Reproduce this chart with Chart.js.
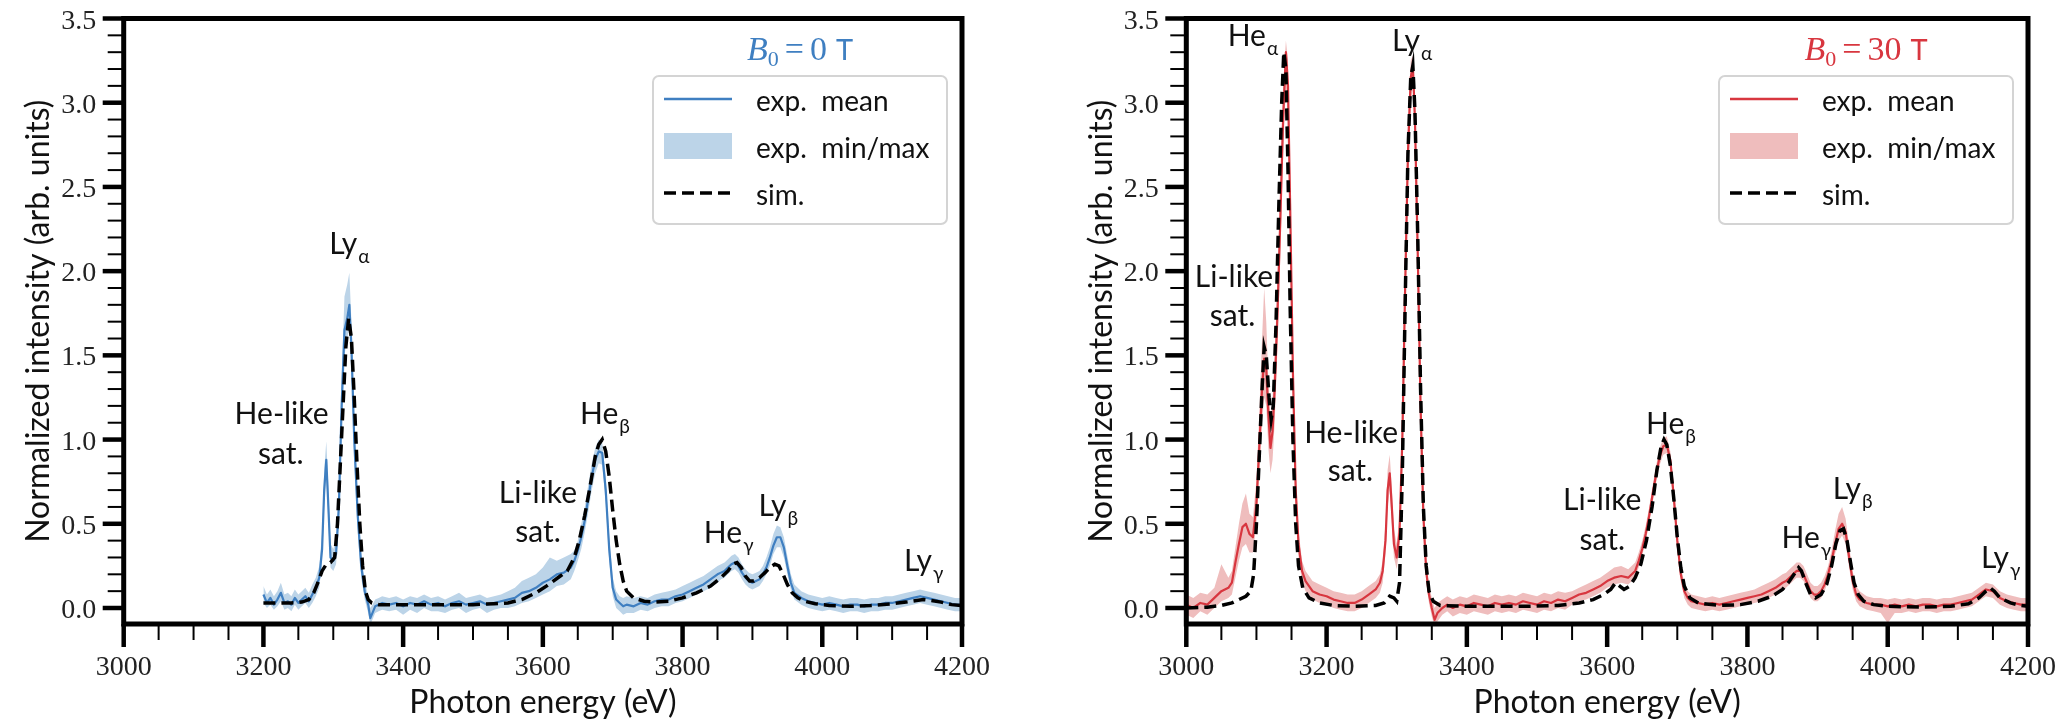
<!DOCTYPE html>
<html>
<head>
<meta charset="utf-8">
<script src="https://cdn.jsdelivr.net/npm/chart.js@4.4.1/dist/chart.umd.min.js"></script>
<style>
    body { margin: 0; background: #fff; width: 2069px; height: 723px; overflow: hidden; position: relative; }
    canvas { position: absolute; top: 0; }
    #chart-0t { left: 0; }
    #chart-30t { left: 1035px; }
</style>
</head>
<body>
<canvas id="chart-0t" width="1035" height="723"></canvas>
<canvas id="chart-30t" width="1034" height="723"></canvas>
<script>
// ---- data ----
const xTickLabels = ['3000', '3200', '3400', '3600', '3800', '4000', '4200'];
const yTickLabels = ['0.0', '0.5', '1.0', '1.5', '2.0', '2.5', '3.0', '3.5'];

// B0 = 0 T, experiment
const energy0 = [3200,3205,3210,3215,3220,3225,3230,3235,3240,3245,3250,3255,3260,3265,3270,
    3275,3280,3284,3287,3290,3293,3296,3300,3304,3308,3312,3316,3320,3323,3326,3330,3335,3340,3345,3350,3353,3356,3360,3365,3370,
    3380,3390,3400,3410,3420,3430,3440,3450,3460,3470,3480,3490,3500,3510,3520,3530,3540,
    3550,3560,3570,3580,3590,3600,3610,3620,3630,3640,
    3645,3650,3655,3660,3665,3670,3675,3680,3685,3690,3695,3700,3705,3710,3715,3720,
    3730,3740,3750,3760,3770,3780,3790,3800,3810,3820,3830,3840,3850,
    3855,3860,3865,3870,3875,3880,3885,3890,3895,3900,3905,3910,3915,3920,3925,3930,3935,3940,3945,3950,3955,3960,
    3970,3980,3990,4000,4010,4020,4030,4040,4050,4060,4070,4080,4090,4100,4110,4120,4130,4140,4150,4160,4170,4180,4190,4200];
const mean0 = [0.08,0.03,0.06,0.02,0.05,0.09,0.03,0.04,0.02,0.06,0.03,0.05,0.07,0.04,0.08,
    0.12,0.18,0.35,0.7,0.88,0.6,0.3,0.28,0.32,0.6,1.2,1.65,1.72,1.8,1.55,1.0,0.55,0.25,0.1,0.02,-0.06,-0.03,0.01,0.02,0.03,
    0.02,0.03,0.01,0.03,0.02,0.04,0.02,0.03,0.01,0.03,0.04,0.02,0.03,0.04,0.02,0.03,0.04,
    0.05,0.06,0.09,0.1,0.12,0.15,0.17,0.2,0.21,0.24,
    0.28,0.34,0.42,0.52,0.65,0.78,0.88,0.93,0.92,0.7,0.35,0.12,0.05,0.03,0.01,0.02,
    0.01,0.03,0.02,0.04,0.05,0.05,0.07,0.08,0.1,0.12,0.14,0.17,0.2,
    0.21,0.22,0.24,0.26,0.27,0.25,0.21,0.18,0.16,0.15,0.16,0.17,0.2,0.24,0.3,0.37,0.42,0.42,0.36,0.25,0.15,0.09,
    0.06,0.04,0.03,0.02,0.03,0.02,0.01,0.02,0.02,0.01,0.02,0.02,0.03,0.03,0.04,0.05,0.06,0.07,0.06,0.05,0.04,0.03,0.02,0.02];
const min0 = [0.03,0.0,0.02,-0.01,0.01,0.04,-0.01,0.0,-0.02,0.02,-0.01,0.01,0.03,0.0,0.03,
    0.07,0.12,0.28,0.6,0.78,0.5,0.24,0.22,0.26,0.5,1.05,1.5,1.6,1.66,1.42,0.88,0.45,0.18,0.05,-0.03,-0.1,-0.07,-0.03,-0.02,-0.01,
    -0.02,-0.01,-0.04,-0.01,-0.03,0.0,-0.02,-0.02,-0.03,-0.01,0.0,-0.03,-0.01,0.0,-0.03,-0.01,0.0,
    0.0,0.01,0.03,0.04,0.06,0.08,0.1,0.13,0.14,0.17,
    0.22,0.28,0.35,0.45,0.57,0.7,0.8,0.86,0.85,0.62,0.28,0.07,0.0,-0.02,-0.04,-0.03,
    -0.03,-0.01,-0.02,0.0,0.01,0.01,0.03,0.04,0.06,0.08,0.1,0.12,0.15,
    0.17,0.18,0.2,0.22,0.23,0.21,0.17,0.14,0.12,0.11,0.12,0.13,0.16,0.2,0.25,0.32,0.36,0.36,0.3,0.2,0.11,0.05,
    0.02,0.0,-0.01,-0.02,-0.01,-0.02,-0.03,-0.02,-0.02,-0.03,-0.02,-0.02,-0.01,-0.01,0.0,0.01,0.02,0.03,0.02,0.01,0.0,-0.01,-0.02,-0.02];
const max0 = [0.13,0.08,0.11,0.07,0.1,0.15,0.08,0.09,0.07,0.11,0.08,0.1,0.12,0.09,0.14,
    0.18,0.25,0.45,0.82,0.99,0.72,0.38,0.35,0.4,0.72,1.38,1.85,1.92,1.99,1.7,1.12,0.65,0.32,0.16,0.07,0.0,0.02,0.05,0.06,0.07,
    0.06,0.07,0.05,0.07,0.06,0.08,0.06,0.07,0.05,0.07,0.09,0.06,0.07,0.08,0.06,0.07,0.08,
    0.1,0.12,0.16,0.18,0.2,0.24,0.3,0.28,0.3,0.32,
    0.34,0.4,0.5,0.6,0.73,0.86,0.95,1.0,0.98,0.78,0.43,0.18,0.1,0.07,0.06,0.07,
    0.06,0.07,0.06,0.08,0.09,0.1,0.11,0.13,0.15,0.17,0.19,0.22,0.25,
    0.26,0.27,0.29,0.31,0.32,0.3,0.26,0.23,0.21,0.2,0.21,0.22,0.25,0.3,0.36,0.44,0.49,0.48,0.42,0.31,0.2,0.14,
    0.1,0.08,0.07,0.06,0.07,0.06,0.05,0.06,0.06,0.05,0.06,0.06,0.07,0.07,0.08,0.09,0.1,0.11,0.1,0.09,0.08,0.07,0.06,0.06];

// B0 = 0 T, simulation
const simEnergy0 = [3200,3220,3240,3255,3265,3272,3278,3284,3290,3296,3302,3306,3310,3314,3318,3322,3326,3330,3334,3338,
    3342,3346,3350,3355,3365,3380,3420,3460,3500,3530,3550,3570,3590,3605,3615,3625,3635,3645,3652,3660,
    3668,3675,3680,3685,3690,3695,3700,3705,3710,3715,3720,3730,3745,3760,3780,3800,3820,3840,3855,3865,
    3872,3878,3884,3890,3896,3902,3910,3918,3925,3932,3938,3944,3950,3957,3965,3975,3990,4010,4040,4070,
    4100,4120,4135,4145,4155,4170,4185,4200];
const sim0 = [0.03,0.03,0.03,0.035,0.05,0.09,0.15,0.22,0.26,0.27,0.3,0.5,0.85,1.2,1.55,1.72,1.6,1.25,0.85,0.5,
    0.25,0.1,0.05,0.03,0.02,0.02,0.02,0.02,0.02,0.025,0.03,0.05,0.09,0.13,0.16,0.19,0.22,0.3,0.4,0.55,
    0.73,0.9,0.97,1.0,0.93,0.78,0.58,0.4,0.26,0.16,0.1,0.06,0.04,0.035,0.04,0.06,0.09,0.13,0.18,0.22,
    0.26,0.27,0.24,0.19,0.16,0.16,0.18,0.21,0.24,0.26,0.25,0.2,0.14,0.09,0.06,0.04,0.025,0.015,0.01,0.015,
    0.025,0.035,0.045,0.05,0.045,0.035,0.02,0.015];

// B0 = 30 T, experiment
const energy30 = [3000,3010,3020,3030,3040,3050,3060,3065,3070,3075,3080,3085,3090,3095,3100,3104,3108,3111,3114,3117,3120,3123,3126,
    3130,3134,3138,3142,3145,3148,3152,3156,3160,3165,3170,3175,3180,3190,3200,
    3210,3220,3230,3240,3250,3260,3270,
    3276,3280,3284,3287,3290,3293,3296,3300,3304,3308,3312,3316,3320,3323,3326,3330,3334,3338,3342,3346,3350,3354,3358,3365,3372,
    3380,3390,3400,3410,3420,3430,3440,3450,3460,3470,3480,3490,3500,3510,3520,3530,3540,
    3550,3560,3570,3580,3590,3600,3610,3620,3630,3640,
    3645,3650,3655,3660,3665,3670,3675,3680,3685,3690,3695,3700,3705,3710,3715,3720,
    3730,3740,3750,3760,3770,3780,3790,3800,3810,3820,3830,3840,3850,
    3855,3860,3865,3870,3875,3880,3885,3890,3895,3900,3905,3910,3915,3920,3925,3930,3935,3940,3945,3950,3955,3960,
    3970,3980,3990,4000,4010,4020,4030,4040,4050,4060,4070,4080,4090,4100,4110,4120,4130,4140,4150,4160,4170,4180,4190,4200];
const mean30 = [0.02,0.0,0.03,0.02,0.06,0.1,0.12,0.15,0.27,0.38,0.48,0.5,0.44,0.42,0.62,0.95,1.3,1.48,1.42,1.15,0.95,1.05,1.3,
    1.75,2.3,2.9,3.3,3.1,2.4,1.4,0.7,0.38,0.22,0.16,0.13,0.1,0.08,0.07,
    0.05,0.04,0.03,0.03,0.05,0.08,0.11,
    0.15,0.22,0.4,0.7,0.8,0.6,0.38,0.3,0.45,1.0,1.9,2.7,3.15,3.22,2.9,2.1,1.2,0.55,0.22,0.08,0.0,-0.07,-0.03,0.0,0.02,
    0.0,0.02,0.01,0.03,0.02,0.01,0.03,0.02,0.03,0.02,0.04,0.03,0.02,0.04,0.03,0.05,0.04,
    0.06,0.08,0.09,0.11,0.13,0.16,0.18,0.19,0.18,0.22,
    0.28,0.35,0.44,0.55,0.68,0.8,0.9,0.96,0.97,0.88,0.66,0.4,0.2,0.1,0.06,0.04,
    0.03,0.02,0.03,0.02,0.03,0.04,0.05,0.06,0.07,0.08,0.1,0.12,0.15,
    0.16,0.18,0.2,0.22,0.22,0.2,0.15,0.1,0.08,0.08,0.1,0.14,0.2,0.28,0.38,0.47,0.5,0.45,0.3,0.16,0.08,0.05,
    0.03,0.02,0.02,0.01,0.02,0.01,0.02,0.01,0.02,0.02,0.01,0.02,0.02,0.03,0.04,0.05,0.08,0.11,0.1,0.06,0.04,0.03,0.02,0.02];
const min30 = [-0.04,-0.06,-0.02,-0.04,0.0,0.04,0.06,0.08,0.18,0.28,0.36,0.38,0.33,0.33,0.5,0.8,1.1,1.25,1.2,0.95,0.8,0.88,1.1,
    1.55,2.1,2.7,3.1,2.9,2.2,1.25,0.6,0.3,0.16,0.1,0.08,0.05,0.03,0.02,
    0.0,-0.01,-0.02,-0.02,0.0,0.03,0.06,
    0.09,0.15,0.32,0.6,0.7,0.5,0.3,0.23,0.36,0.85,1.7,2.5,3.0,3.1,2.75,1.95,1.05,0.45,0.15,0.03,-0.05,-0.11,-0.08,-0.04,-0.02,
    -0.05,-0.03,-0.04,-0.02,-0.03,-0.04,-0.02,-0.03,-0.02,-0.03,-0.01,-0.02,-0.03,-0.01,-0.02,0.0,-0.01,
    0.02,0.04,0.05,0.07,0.09,0.12,0.14,0.15,0.14,0.18,
    0.24,0.31,0.4,0.5,0.63,0.75,0.85,0.91,0.92,0.83,0.6,0.35,0.16,0.06,0.02,0.0,
    -0.01,-0.02,-0.01,-0.02,-0.01,0.0,0.01,0.02,0.03,0.04,0.06,0.08,0.1,
    0.12,0.14,0.16,0.18,0.18,0.16,0.11,0.06,0.04,0.04,0.06,0.1,0.16,0.23,0.32,0.4,0.43,0.38,0.24,0.11,0.04,0.01,
    -0.01,-0.02,-0.03,-0.09,-0.03,-0.03,-0.02,-0.03,-0.02,-0.02,-0.03,-0.02,-0.02,-0.01,0.0,0.01,0.04,0.07,0.06,0.02,0.0,-0.01,-0.02,-0.02];
const max30 = [0.08,0.06,0.09,0.08,0.12,0.26,0.18,0.22,0.36,0.5,0.62,0.68,0.56,0.54,0.76,1.15,1.6,1.9,1.7,1.35,1.12,1.25,1.5,
    1.95,2.5,3.1,3.37,3.25,2.6,1.55,0.8,0.46,0.28,0.22,0.19,0.16,0.14,0.12,
    0.1,0.09,0.08,0.08,0.1,0.13,0.16,
    0.2,0.28,0.5,0.82,0.91,0.72,0.47,0.38,0.55,1.15,2.1,2.9,3.25,3.28,3.05,2.25,1.35,0.65,0.3,0.14,0.06,0.0,0.03,0.05,0.07,
    0.05,0.07,0.06,0.08,0.07,0.06,0.08,0.07,0.08,0.07,0.09,0.08,0.07,0.09,0.08,0.1,0.09,
    0.1,0.12,0.14,0.16,0.18,0.21,0.24,0.25,0.23,0.27,
    0.33,0.4,0.49,0.6,0.73,0.85,0.95,1.01,1.02,0.93,0.72,0.46,0.25,0.15,0.1,0.08,
    0.07,0.06,0.07,0.06,0.07,0.08,0.09,0.1,0.11,0.13,0.15,0.17,0.2,
    0.21,0.23,0.25,0.27,0.27,0.25,0.2,0.15,0.13,0.13,0.15,0.19,0.25,0.34,0.46,0.56,0.6,0.53,0.37,0.22,0.13,0.1,
    0.07,0.06,0.06,0.05,0.06,0.05,0.06,0.05,0.06,0.06,0.05,0.06,0.06,0.07,0.08,0.09,0.12,0.15,0.14,0.1,0.08,0.07,0.06,0.06];

// B0 = 30 T, simulation
const simEnergy30 = [3000,3030,3050,3065,3075,3085,3092,3096,3100,3104,3108,3111,3114,3118,3121,3124,3128,3132,3136,3139,
    3142,3145,3148,3152,3156,3160,3166,3175,3190,3210,3240,3270,3282,3290,3296,3300,3304,3308,3312,3316,
    3320,3323,3326,3330,3334,3338,3342,3346,3352,3362,3400,3480,3530,3560,3580,3595,3605,3612,3618,3624,
    3632,3640,3648,3656,3664,3671,3677,3681,3685,3690,3695,3700,3705,3710,3718,3730,3760,3790,3815,3835,
    3850,3860,3868,3873,3877,3883,3890,3897,3905,3913,3920,3926,3932,3937,3942,3947,3952,3958,3966,3980,
    4000,4050,4090,4115,4130,4140,4146,4152,4160,4175,4190,4200];
const sim30 = [0.0,0.005,0.015,0.03,0.05,0.07,0.1,0.2,0.5,0.9,1.3,1.55,1.5,1.25,1.12,1.2,1.7,2.4,3.0,3.3,
    3.2,2.6,1.8,1.0,0.5,0.25,0.12,0.06,0.03,0.015,0.01,0.015,0.03,0.07,0.06,0.04,0.15,0.8,1.8,2.7,
    3.15,3.22,2.95,2.2,1.3,0.6,0.25,0.1,0.04,0.015,0.01,0.01,0.015,0.03,0.05,0.08,0.11,0.15,0.13,0.11,
    0.13,0.18,0.26,0.4,0.6,0.82,0.96,1.0,0.97,0.85,0.65,0.42,0.24,0.13,0.06,0.03,0.015,0.02,0.04,0.07,
    0.11,0.16,0.21,0.24,0.22,0.15,0.08,0.06,0.08,0.14,0.25,0.38,0.46,0.47,0.4,0.27,0.15,0.08,0.04,0.02,
    0.01,0.005,0.01,0.025,0.06,0.1,0.12,0.1,0.06,0.03,0.015,0.01];

// peak labels (energy, intensity of the text centre)
const peakLabels0 = [
    { text: 'Ly', sub: 'α', e: 3323, v: 2.17 },
    { text: 'He-like', e: 3226, v: 1.16 },
    { text: 'sat.', e: 3225, v: 0.92 },
    { text: 'He', sub: 'β', e: 3689, v: 1.16 },
    { text: 'Li-like', e: 3593, v: 0.686 },
    { text: 'sat.', e: 3593, v: 0.455 },
    { text: 'He', sub: 'γ', e: 3866, v: 0.45 },
    { text: 'Ly', sub: 'β', e: 3937, v: 0.61 },
    { text: 'Ly', sub: 'γ', e: 4145, v: 0.285 }
];
const peakLabels30 = [
    { text: 'He', sub: 'α', e: 3095, v: 3.40 },
    { text: 'Ly', sub: 'α', e: 3322, v: 3.37 },
    { text: 'Li-like', e: 3068, v: 1.97 },
    { text: 'sat.', e: 3066, v: 1.74 },
    { text: 'He-like', e: 3235, v: 1.045 },
    { text: 'sat.', e: 3234, v: 0.82 },
    { text: 'He', sub: 'β', e: 3691, v: 1.1 },
    { text: 'Li-like', e: 3593, v: 0.65 },
    { text: 'sat.', e: 3593, v: 0.41 },
    { text: 'He', sub: 'γ', e: 3884, v: 0.42 },
    { text: 'Ly', sub: 'β', e: 3950, v: 0.71 },
    { text: 'Ly', sub: 'γ', e: 4161, v: 0.30 }
];

const SANS = 'Lato, "Noto Sans", sans-serif';
const SERIF = '"Liberation Serif", "DejaVu Serif", serif';

function toPoints(xs, ys) {
    return xs.map((e, i) => ({ x: e, y: ys[i] }));
}

function line(ctx, x0, y0, x1, y1, w) {
    ctx.lineWidth = w;
    ctx.beginPath();
    ctx.moveTo(x0, y0);
    ctx.lineTo(x1, y1);
    ctx.stroke();
}

// axes frame, ticks, labels, legend and annotations
const decor = {
    id: 'decor',
    afterDraw(chart, args, o) {
        const { ctx, chartArea: a, scales: { x, y } } = chart;
        ctx.save();
        ctx.strokeStyle = '#000';
        ctx.lineCap = 'butt';

        // minor ticks
        for (let v = 3050; v < 4200; v += 50) {
            if (v % 200 === 0) continue;
            const px = x.getPixelForValue(v);
            line(ctx, px, a.bottom, px, a.bottom + 16, 2);
        }
        for (let k = 1; k < 35; k++) {
            if (k % 5 === 0) continue;
            const py = y.getPixelForValue(k / 10);
            line(ctx, a.left, py, a.left - 16, py, 2);
        }
        // major ticks + labels
        ctx.fillStyle = '#222';
        ctx.font = '28px ' + SERIF;
        ctx.textAlign = 'center';
        ctx.textBaseline = 'alphabetic';
        xTickLabels.forEach(t => {
            const px = x.getPixelForValue(parseFloat(t));
            line(ctx, px, a.bottom, px, a.bottom + 23, 4.5);
            ctx.fillText(t, px, 675);
        });
        ctx.textAlign = 'right';
        yTickLabels.forEach(t => {
            const py = y.getPixelForValue(parseFloat(t));
            line(ctx, a.left, py, a.left - 21, py, 4.5);
            ctx.fillText(t, a.left - 27.5, py + 10);
        });

        // frame
        ctx.lineWidth = 5;
        ctx.strokeRect(a.left, a.top, a.right - a.left, a.bottom - a.top);

        // axis titles
        ctx.fillStyle = '#111';
        ctx.font = '32px ' + SANS;
        ctx.textAlign = 'center';
        ctx.fillText('Photon energy (eV)', (a.left + a.right) / 2, 713);
        ctx.save();
        ctx.translate(a.left - 74.5, (a.top + a.bottom) / 2);
        ctx.rotate(-Math.PI / 2);
        ctx.fillText('Normalized intensity (arb. units)', 0, 0);
        ctx.restore();

        // peak labels
        o.labels.forEach(l => {
            ctx.font = '30px ' + SANS;
            const w1 = ctx.measureText(l.text).width;
            ctx.font = '19px ' + SANS;
            const w2 = l.sub ? ctx.measureText(l.sub).width + 1 : 0;
            const px = x.getPixelForValue(l.e) - (w1 + w2) / 2;
            const py = y.getPixelForValue(l.v) + 11;
            ctx.textAlign = 'left';
            ctx.font = '30px ' + SANS;
            ctx.fillText(l.text, px, py);
            if (l.sub) {
                ctx.font = '19px ' + SANS;
                ctx.fillText(l.sub, px + w1 + 1, py + 9);
            }
        });

        // legend box
        const bw = 294, bh = 148;
        const bx = a.right - 15 - bw, by = a.top + 57.5;
        ctx.fillStyle = 'rgba(255,255,255,0.85)';
        ctx.strokeStyle = '#d4d4d4';
        ctx.lineWidth = 2;
        ctx.beginPath();
        ctx.roundRect(bx, by, bw, bh, 6);
        ctx.fill();
        ctx.stroke();

        const lx0 = bx + 11, lx1 = bx + 79, tx = bx + 103;
        const r1 = by + 23, r2 = by + 70, r3 = by + 117;
        ctx.strokeStyle = o.lineColor;
        line(ctx, lx0, r1, lx1, r1, 2.5);
        ctx.fillStyle = o.bandColor;
        ctx.fillRect(lx0, r2 - 13, lx1 - lx0, 26);
        ctx.strokeStyle = '#000';
        ctx.setLineDash([12, 6]);
        line(ctx, lx0, r3, lx1, r3, 3.5);
        ctx.setLineDash([]);

        ctx.fillStyle = '#111';
        ctx.font = '28px ' + SANS;
        ctx.textAlign = 'left';
        ctx.fillText('exp.  mean', tx, r1 + 12);
        ctx.fillText('exp.  min/max', tx, r2 + 12);
        ctx.fillText('sim.', tx, r3 + 12);

        // legend title: B0 = n T
        const parts = [
            { s: 'B', f: 'italic 34px ' + SERIF, dy: 0, gap: 0 },
            { s: '0', f: '22px ' + SERIF, dy: 6, gap: 6 },
            { s: '=', f: '34px ' + SERIF, dy: 0, gap: 6 },
            { s: o.field, f: '34px ' + SERIF, dy: 0, gap: 9 },
            { s: 'T', f: '29px ' + SANS, dy: 0, gap: 0 }
        ];
        let total = 0;
        parts.forEach(p => { ctx.font = p.f; p.w = ctx.measureText(p.s).width; total += p.w + p.gap; });
        let cx = bx + bw / 2 - total / 2;
        ctx.fillStyle = o.lineColor;
        parts.forEach(p => {
            ctx.font = p.f;
            ctx.fillText(p.s, cx, 60 + p.dy);
            cx += p.w + p.gap;
        });

        ctx.restore();
    }
};

function makeChart(id, d) {
    return new Chart(document.getElementById(id), {
        type: 'line',
        data: {
            datasets: [
                {
                    label: 'sim.', data: toPoints(d.simE, d.sim),
                    borderColor: '#000', borderWidth: 3.5, borderDash: [12, 6],
                    pointRadius: 0, fill: false, tension: 0
                },
                {
                    label: 'exp. mean', data: toPoints(d.E, d.mean),
                    borderColor: d.lineColor, borderWidth: 2.2, borderJoinStyle: 'round',
                    pointRadius: 0, fill: false, tension: 0
                },
                {
                    label: 'exp. min', data: toPoints(d.E, d.lo),
                    borderColor: 'rgba(0,0,0,0)', borderWidth: 1, pointRadius: 0, fill: false, tension: 0
                },
                {
                    label: 'exp. min/max', data: toPoints(d.E, d.hi),
                    borderColor: 'rgba(0,0,0,0)', borderWidth: 1, pointRadius: 0,
                    fill: '-1', backgroundColor: d.bandColor, tension: 0
                }
            ]
        },
        options: {
            responsive: false,
            animation: false,
            devicePixelRatio: 1,
            layout: { padding: { left: d.padLeft, right: d.padRight, top: 18.5, bottom: 99 } },
            scales: {
                x: { type: 'linear', display: false, min: 3000, max: 4200 },
                y: { type: 'linear', display: false, min: -0.095, max: 3.5 }
            },
            plugins: {
                legend: { display: false },
                tooltip: { enabled: false },
                decor: { labels: d.labels, lineColor: d.lineColor, bandColor: d.bandColor, field: d.field }
            }
        },
        plugins: [decor]
    });
}

makeChart('chart-0t', {
    E: energy0, mean: mean0, lo: min0, hi: max0, simE: simEnergy0, sim: sim0,
    labels: peakLabels0, field: '0',
    lineColor: '#3f7fc1', bandColor: '#bcd4e8',
    padLeft: 123.7, padRight: 1035 - 962
});

makeChart('chart-30t', {
    E: energy30, mean: mean30, lo: min30, hi: max30, simE: simEnergy30, sim: sim30,
    labels: peakLabels30, field: '30',
    lineColor: '#d8363f', bandColor: '#efbdbd',
    padLeft: 1186.3 - 1035, padRight: 1034 - (2028 - 1035)
});
</script>
</body>
</html>
